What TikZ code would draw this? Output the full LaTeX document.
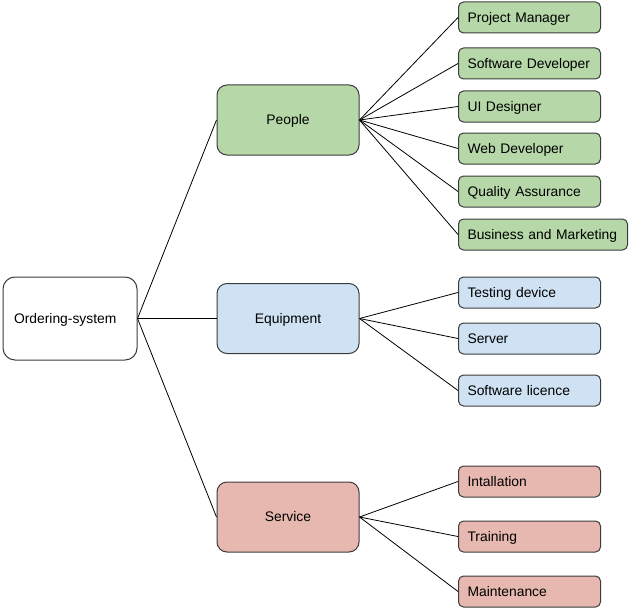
\documentclass[tikz,border=0pt]{standalone}
\usepackage{fontspec}
\setmainfont{Liberation Sans}
\definecolor{peoplegreen}{RGB}{182,215,168}
\definecolor{equipblue}{RGB}{207,226,243}
\definecolor{servicered}{RGB}{230,184,175}
\definecolor{boxline}{RGB}{60,60,60}
\tikzset{
  rootbox/.style={draw=boxline, fill=white, rounded corners=9pt, minimum width=100.5pt, minimum height=62.25pt, inner xsep=8.25pt, text width=84pt, align=left, text height=7.45pt, text depth=0pt},
  groupbox/.style={draw=boxline, rounded corners=7.5pt, minimum width=106.5pt, minimum height=52.5pt, align=center, text height=7.45pt, text depth=0pt},
  leafbox/.style={draw=boxline, rounded corners=3.75pt, minimum height=23.25pt, inner xsep=6.75pt, text width=93pt, align=left, anchor=west, text height=7.45pt, text depth=0pt},
  link/.style={draw=black, line width=0.6pt}
}
\begin{document}
\begin{tikzpicture}[x=0.75pt,y=0.75pt,yscale=-1,xscale=1, font=\fontsize{10.4}{12.5}\selectfont, line width=0.75pt]
        \useasboundingbox (0,0) rectangle (632,610);

        %Root
        \node [rootbox] (order) at (70,318.5) {Ordering-system};

        %Groups
        \node [groupbox, fill=peoplegreen] (people) at (288,120) {People};
        \node [groupbox, fill=equipblue] (equip) at (288,318.5) {Equipment};
        \node [groupbox, fill=servicered] (service) at (288,517) {Service};

        %People leaves
        \node [leafbox, fill=peoplegreen] (pm) at (458,17.5) {Project Manager};
        \node [leafbox, fill=peoplegreen] (swdev) at (458,63.5) {Software Developer};
        \node [leafbox, fill=peoplegreen] (ui) at (458,106.5) {UI Designer};
        \node [leafbox, fill=peoplegreen] (webdev) at (458,148.5) {Web Developer};
        \node [leafbox, fill=peoplegreen] (qa) at (458,191.5) {Quality Assurance};
        \node [leafbox, fill=peoplegreen, text width=113.25pt] (bm) at (458,234.5) {Business and Marketing};

        %Equipment leaves
        \node [leafbox, fill=equipblue] (testdev) at (458,292.5) {Testing device};
        \node [leafbox, fill=equipblue] (server) at (458,338.5) {Server};
        \node [leafbox, fill=equipblue] (licence) at (458,390.5) {Software licence};

        %Service leaves
        \node [leafbox, fill=servicered] (install) at (458,481.5) {Intallation};
        \node [leafbox, fill=servicered] (training) at (458,536.5) {Training};
        \node [leafbox, fill=servicered] (maint) at (458,591.5) {Maintenance};

        %Links
        \foreach \g in {people,equip,service}
          \draw [link] (order.east) -- (\g.west);
        \foreach \l in {pm,swdev,ui,webdev,qa,bm}
          \draw [link] (people.east) -- (\l.west);
        \foreach \l in {testdev,server,licence}
          \draw [link] (equip.east) -- (\l.west);
        \foreach \l in {install,training,maint}
          \draw [link] (service.east) -- (\l.west);
\end{tikzpicture}
\end{document}
